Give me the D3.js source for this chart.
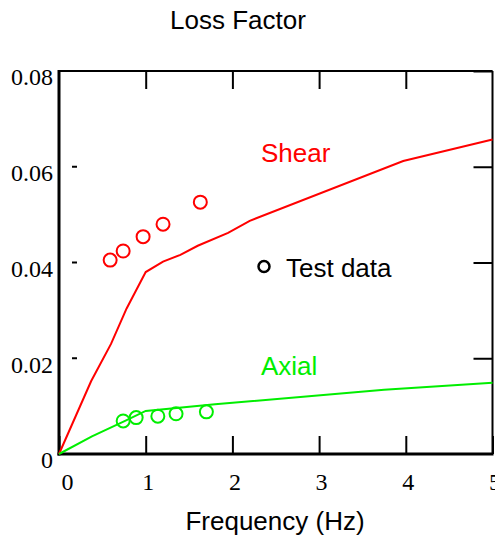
<!DOCTYPE html>
<html>
<head>
<meta charset="utf-8">
<script src="https://cdn.jsdelivr.net/npm/d3@7/dist/d3.min.js"></script>
<style>
  html, body { margin: 0; padding: 0; background: #fff; }
  svg { display: block; }
</style>
</head>
<body>
<svg id="chart" width="495" height="538"></svg>
<script>
// ---- data ----
const shearFreq   = [0, 0.37, 0.6, 0.78, 1.0, 1.2, 1.4, 1.6, 1.95, 2.2, 3.97, 5.0];
const shearLoss   = [0, 0.0152, 0.023, 0.0304, 0.038, 0.0402, 0.0416, 0.0435, 0.0462, 0.0487, 0.0612, 0.0657];
const axialFreq   = [0, 0.38, 0.75, 1.0, 1.8, 3.75, 5.0];
const axialLoss   = [0, 0.0037, 0.0068, 0.0090, 0.0104, 0.0134, 0.0149];
const shearTestFreq = [0.59, 0.74, 0.97, 1.2, 1.63];
const shearTestLoss = [0.0405, 0.0424, 0.0454, 0.048, 0.0526];
const axialTestFreq = [0.74, 0.89, 1.14, 1.35, 1.70];
const axialTestLoss = [0.0069, 0.0076, 0.0079, 0.0084, 0.0088];
const xTicks = [0, 1, 2, 3, 4, 5];
const yTicks = [0, 0.02, 0.04, 0.06, 0.08];
const yTickLabels = ["0", "0.02", "0.04", "0.06", "0.08"];
const title = "Loss Factor";
const xTitle = "Frequency (Hz)";
const seriesNames = ["Shear", "Axial"];
const legendLabel = "Test data";

// ---- layout ----
const L = 59, R = 492.5, T = 71, B = 454;
const RED = "#ff0000", GREEN = "#00ee00";
const svg = d3.select("#chart");
const x = d3.scaleLinear().domain([0, 5]).range([L, R]);
const y = d3.scaleLinear().domain([0, 0.08]).range([B, T]);
const serif = "'Liberation Serif', 'Times New Roman', serif";
const sans = "'Liberation Sans', Arial, sans-serif";

// title
svg.append("text").attr("x", 238).attr("y", 29).attr("text-anchor", "middle")
  .style("font-family", sans).style("font-size", "26px").text(title);
svg.append("text").attr("x", 275).attr("y", 530).attr("text-anchor", "middle")
  .style("font-family", sans).style("font-size", "26px").text(xTitle);

// bottom axis (ticks inward)
const gx = svg.append("g").attr("transform", `translate(0,${B})`)
  .call(d3.axisBottom(x).tickValues(xTicks).tickSize(-18).tickSizeOuter(0).tickPadding(19).tickFormat(d3.format("d")));
gx.select(".domain").remove();
gx.selectAll(".tick line").attr("stroke", "#000").attr("stroke-width", 2);
gx.selectAll(".tick text").style("font-family", serif).style("font-size", "24px").attr("fill", "#000")
  .attr("dx", (d) => d === 0 ? 8 : 2);
// top axis ticks (inward)
const gt = svg.append("g").attr("transform", `translate(0,${T})`)
  .call(d3.axisTop(x).tickValues(xTicks.slice(1, -1)).tickSize(-18).tickFormat(""));
gt.select(".domain").remove();
gt.selectAll(".tick line").attr("stroke", "#000").attr("stroke-width", 2);

// left axis labels
const gy = svg.append("g").attr("transform", `translate(${L},0)`)
  .call(d3.axisLeft(y).tickValues(yTicks).tickSize(0).tickPadding(6).tickFormat((d, i) => yTickLabels[i]));
gy.select(".domain").remove();
gy.selectAll(".tick text").style("font-family", serif).style("font-size", "24px").attr("fill", "#000")
  .attr("dy", "0.58em");
// left short dashes
svg.append("g").selectAll("line").data(yTicks.slice(1)).join("line")
  .attr("x1", L + 13).attr("x2", L + 18).attr("y1", d => y(d)).attr("y2", d => y(d))
  .attr("stroke", "#000").attr("stroke-width", 2);
// right ticks (inward)
const gr = svg.append("g").attr("transform", `translate(${R},0)`)
  .call(d3.axisRight(y).tickValues(yTicks.slice(1)).tickSize(-19).tickFormat(""));
gr.select(".domain").remove();
gr.selectAll(".tick line").attr("stroke", "#000").attr("stroke-width", 2);

// frame
svg.append("line").attr("x1", L).attr("x2", R).attr("y1", T).attr("y2", T).attr("stroke", "#000").attr("stroke-width", 2);
svg.append("line").attr("x1", R).attr("x2", R).attr("y1", T).attr("y2", B).attr("stroke", "#000").attr("stroke-width", 2);
svg.append("line").attr("x1", L).attr("x2", L).attr("y1", T - 1).attr("y2", B + 1.5).attr("stroke", "#000").attr("stroke-width", 3);
svg.append("line").attr("x1", L - 1.5).attr("x2", R + 1).attr("y1", B).attr("y2", B).attr("stroke", "#000").attr("stroke-width", 3);

// curves
const line = d3.line().x(d => x(d[0])).y(d => y(d[1]));
svg.append("path").datum(d3.zip(shearFreq, shearLoss)).attr("d", line)
  .attr("fill", "none").attr("stroke", RED).attr("stroke-width", 2);
svg.append("path").datum(d3.zip(axialFreq, axialLoss)).attr("d", line)
  .attr("fill", "none").attr("stroke", GREEN).attr("stroke-width", 2);

// test data circles
svg.append("g").selectAll("circle").data(d3.zip(shearTestFreq, shearTestLoss)).join("circle")
  .attr("cx", d => x(d[0])).attr("cy", d => y(d[1])).attr("r", 6.5)
  .attr("fill", "none").attr("stroke", RED).attr("stroke-width", 2);
svg.append("g").selectAll("circle").data(d3.zip(axialTestFreq, axialTestLoss)).join("circle")
  .attr("cx", d => x(d[0])).attr("cy", d => y(d[1])).attr("r", 6.5)
  .attr("fill", "none").attr("stroke", GREEN).attr("stroke-width", 2);

// series labels
svg.append("text").attr("x", 261).attr("y", 162).attr("fill", RED)
  .style("font-family", sans).style("font-size", "26px").text(seriesNames[0]);
svg.append("text").attr("x", 261).attr("y", 375).attr("fill", GREEN)
  .style("font-family", sans).style("font-size", "26px").text(seriesNames[1]);

// legend
svg.append("circle").attr("cx", 264).attr("cy", 266.5).attr("r", 5.5)
  .attr("fill", "none").attr("stroke", "#000").attr("stroke-width", 2.5);
svg.append("text").attr("x", 286).attr("y", 277).attr("fill", "#000")
  .style("font-family", sans).style("font-size", "26px").text(legendLabel);
</script>
</body>
</html>
